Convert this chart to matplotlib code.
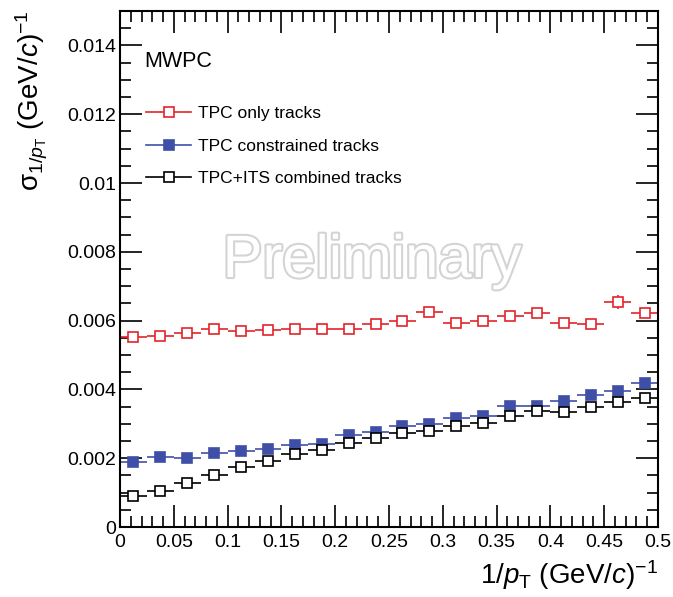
import numpy as np
import matplotlib
matplotlib.use("Agg")
import matplotlib.pyplot as plt
from matplotlib.lines import Line2D
import matplotlib.patheffects as pe

plt.rcParams['font.family'] = 'Liberation Sans'
plt.rcParams['mathtext.fontset'] = 'custom'
plt.rcParams['mathtext.rm'] = 'Liberation Sans'
plt.rcParams['mathtext.it'] = 'Liberation Sans:italic'

# 1/pT bins of width 0.025
bin_centers = np.arange(0.0125, 0.5, 0.025)
bin_half_width = 0.0125

tpc_only = [0.00552, 0.00555, 0.00563, 0.00577, 0.00569, 0.00574, 0.00577,
            0.00577, 0.00577, 0.00591, 0.00598, 0.00624, 0.00593, 0.00600,
            0.00613, 0.00622, 0.00593, 0.00589, 0.00654, 0.00622]
tpc_only_err = [0.00012, 0.00010, 0.00010, 0.00010, 0.00010, 0.00010, 0.00010,
                0.00010, 0.00010, 0.00010, 0.00012, 0.00014, 0.00012, 0.00012,
                0.00012, 0.00014, 0.00012, 0.00012, 0.00020, 0.00014]
tpc_constrained = [0.00189, 0.00203, 0.00200, 0.00215, 0.00220, 0.00227,
                   0.00239, 0.00242, 0.00266, 0.00275, 0.00293, 0.00300,
                   0.00316, 0.00322, 0.00351, 0.00351, 0.00367, 0.00384,
                   0.00396, 0.00418]
tpc_its = [0.00090, 0.00105, 0.00129, 0.00152, 0.00174, 0.00191, 0.00213,
           0.00223, 0.00244, 0.00258, 0.00274, 0.00280, 0.00293, 0.00303,
           0.00322, 0.00336, 0.00333, 0.00350, 0.00362, 0.00374]

labels = ["TPC only tracks", "TPC constrained tracks", "TPC+ITS combined tracks"]
x_ticks = [0, 0.05, 0.1, 0.15, 0.2, 0.25, 0.3, 0.35, 0.4, 0.45, 0.5]
x_ticklabels = ['0', '0.05', '0.1', '0.15', '0.2', '0.25', '0.3',
                '0.35', '0.4', '0.45', '0.5']
y_ticks = [0, 0.002, 0.004, 0.006, 0.008, 0.01, 0.012, 0.014]
y_ticklabels = ['0', '0.002', '0.004', '0.006', '0.008', '0.01',
                '0.012', '0.014']

red = '#e3242b'
blue = '#3f4fa8'
black = '#000000'

fig = plt.figure(figsize=(6.73, 5.97), dpi=100)
ax = fig.add_axes([120 / 673, 1 - 527 / 597, 538 / 673, 516 / 597])

ebar = dict(fmt='s', ms=6.5, mew=1.2, elinewidth=1.2, capsize=0)
ax.errorbar(bin_centers, tpc_only, xerr=bin_half_width, yerr=tpc_only_err,
            color=red, mfc='white', **ebar)
ax.errorbar(bin_centers, tpc_constrained, xerr=bin_half_width,
            color=blue, mfc=blue, **ebar)
ax.errorbar(bin_centers, tpc_its, xerr=bin_half_width,
            color=black, mfc='white', **ebar)

ax.set_xlim(0, 0.5)
ax.set_ylim(0, 0.015)
ax.set_xticks(x_ticks)
ax.set_xticklabels(x_ticklabels)
ax.set_xticks(np.arange(0, 0.501, 0.01), minor=True)
ax.set_yticks(y_ticks)
ax.set_yticklabels(y_ticklabels)
ax.set_yticks(np.arange(0, 0.0151, 0.0005), minor=True)
ax.tick_params(which='both', direction='in', top=True, right=True,
               width=1.2, labelsize=14)
ax.tick_params(axis='y', pad=3)
ax.tick_params(axis='x', pad=5)
ax.tick_params(which='major', length=16)
ax.tick_params(which='minor', length=8)
for s in ax.spines.values():
    s.set_linewidth(1.5)

handles = [
    Line2D([], [], color=red, marker='s', ms=6.5, mew=1.2, mfc='white', lw=1.2),
    Line2D([], [], color=blue, marker='s', ms=6.5, mew=1.2, mfc=blue, lw=1.2),
    Line2D([], [], color=black, marker='s', ms=6.5, mew=1.2, mfc='white', lw=1.2),
]
fig.legend(handles, labels, loc='upper left', frameon=False, fontsize=12.5,
           bbox_to_anchor=(146 / 673, 1 - 106 / 597), borderpad=0,
           borderaxespad=0, handlelength=2.6, handletextpad=0.4,
           labelspacing=1.0)

fig.text(144 / 673, 1 - 67 / 597, 'MWPC', fontsize=15.5, va='baseline')

fig.text(372 / 673, 1 - 277 / 597, 'Preliminary', fontsize=43, color='white',
         ha='center', va='baseline',
         path_effects=[pe.withStroke(linewidth=3, foreground='#d4d4d4')])

fig.text(658 / 673, 1 - 584 / 597, r'1/$p_{\rm T}$ (GeV/$c$)$^{-1}$',
         fontsize=20, ha='right', va='baseline')
fig.text(32 / 673, 1 - 10 / 597, r'σ$_{1/p_{\rm T}}$ (GeV/$c$)$^{-1}$',
         fontsize=20, ha='center', va='top', rotation=90)

fig.savefig('out.png', dpi=100)
